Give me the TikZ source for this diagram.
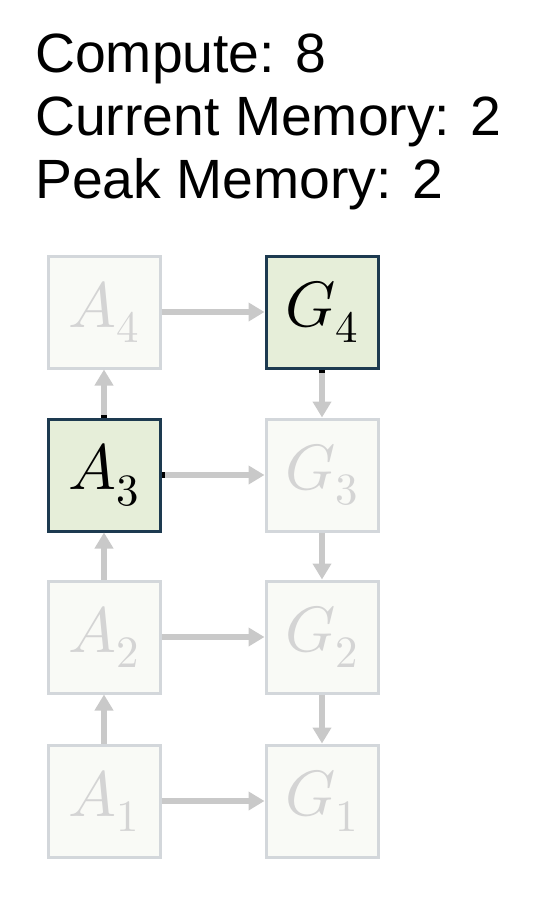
\documentclass[tikz,border=0pt]{standalone}
\usepackage{fontspec}
\usepackage{unicode-math}
\setmainfont{Liberation Sans}
\setmathfont{Latin Modern Math}
\usetikzlibrary{arrows.meta,positioning}

\definecolor{idlefill}{HTML}{F9FAF6}
\definecolor{idleline}{HTML}{D3D7DB}
\definecolor{idletext}{HTML}{D4D4D4}
\definecolor{livefill}{HTML}{E6EED9}
\definecolor{liveline}{HTML}{1D3A50}
\definecolor{flowgray}{HTML}{C9C9C9}

\begin{document}
\begin{tikzpicture}[x=0.75pt, y=-0.75pt,
  idle/.style={rectangle, draw=idleline, fill=idlefill, line width=2.25pt, minimum size=84pt, inner sep=0pt, text=idletext, font=\fontsize{48}{52}\selectfont},
  live/.style={idle, draw=liveline, fill=livefill, text=black},
  stat/.style={anchor=base west, inner sep=0pt, font=\fontsize{41.5}{48}\selectfont},
  flow/.style={line width=4.5pt, draw=flowgray, -{Triangle[length=12pt, width=13.5pt]}},
  liveflow/.style={flow, {Rectangle[length=2.25pt, width=4.5pt, color=black]}-{Triangle[length=12pt, width=13.5pt]}}]
\useasboundingbox (0,0) rectangle (538,900);
\node[stat] (compute) at (35,72) {Compute: 8};
\node[stat] (current) at (35,135) {Current Memory: 2};
\node[stat] (peak) at (35,198) {Peak Memory: 2};
\node[idle] (a4) at (104,312) {$A_4$};
\node[live] (g4) at (322,312) {$G_4$};
\node[live] (a3) at (104,475) {$A_3$};
\node[idle] (g3) at (322,475) {$G_3$};
\node[idle] (a2) at (104,637) {$A_2$};
\node[idle] (g2) at (322,637) {$G_2$};
\node[idle] (a1) at (104,801) {$A_1$};
\node[idle] (g1) at (322,801) {$G_1$};
\draw[flow] (a1) -- (a2);
\draw[flow] (a2) -- (a3);
\draw[liveflow] (a3) -- (a4);
\draw[flow] (a4) -- (g4);
\draw[liveflow] (g4) -- (g3);
\draw[flow] (g3) -- (g2);
\draw[flow] (g2) -- (g1);
\draw[liveflow] (a3) -- (g3);
\draw[flow] (a2) -- (g2);
\draw[flow] (a1) -- (g1);
\end{tikzpicture}
\end{document}
